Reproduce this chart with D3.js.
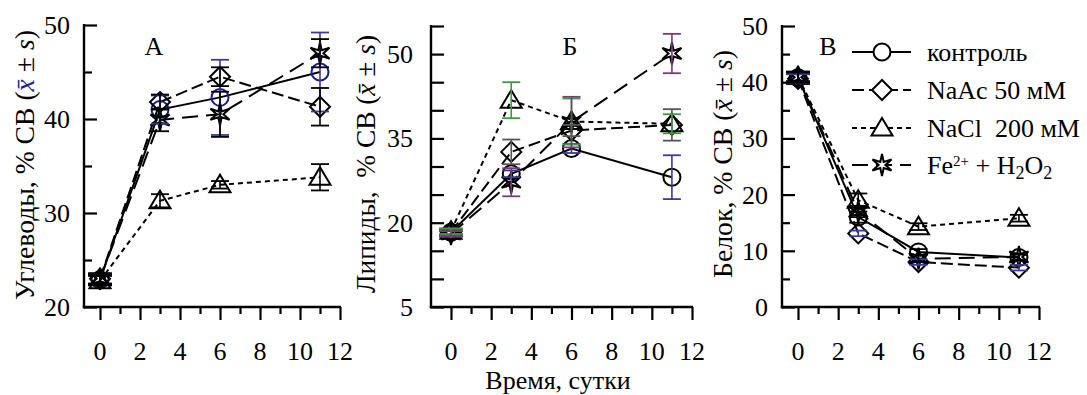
<!DOCTYPE html>
<html><head><meta charset="utf-8">
<script src="https://cdn.jsdelivr.net/npm/d3@7"></script>
<style>body{margin:0;background:#fff}svg{display:block}</style>
</head><body><svg id="c" width="1087" height="395" font-family="'Liberation Serif', 'Times New Roman', serif"></svg>
<script>
const days = [0, 3, 6, 11];
const seriesNames = ["контроль", "NaAc 50 мМ", "NaCl  200 мМ", "Fe"];
const xTicks = [0, 2, 4, 6, 8, 10, 12];

// Panel A – carbohydrates
const carbValues = [
  [22.9, 41.0, 42.3, 45.0],
  [23.0, 41.8, 44.5, 41.3],
  [22.8, 31.3, 33.0, 33.8],
  [23.0, 39.9, 40.5, 47.0]
];
const carbSd = [
  [0.5, 1.5, 4.0, 4.2],
  [0.5, 0.8, 1.0, 2.0],
  [0.5, 0.7, 0.4, 1.4],
  [0.6, 1.2, 2.4, 1.5]
];
const carbTicks = [20, 30, 40, 50];

// Panel B – lipids
const lipidValues = [
  [18.3, 28.7, 33.2, 28.1],
  [18.3, 32.6, 36.4, 37.4],
  [18.5, 41.8, 38.0, 37.6],
  [18.0, 27.2, 37.9, 50.1]
];
const lipidSd = [
  [0.5, 0.6, 0.8, 3.9],
  [0.5, 2.2, 1.0, 2.8],
  [0.5, 3.2, 4.1, 1.7],
  [0.5, 2.5, 4.5, 3.5]
];
const lipidTicks = [5, 20, 35, 50];

// Panel C – protein
const proteinValues = [
  [40.8, 16.0, 9.8, 8.8],
  [40.6, 13.1, 8.0, 7.0],
  [41.0, 19.0, 14.3, 15.8],
  [40.9, 17.0, 8.6, 8.9]
];
const proteinSd = [
  [0.8, 1.0, 0.5, 0.5],
  [0.8, 0.5, 0.5, 0.5],
  [0.8, 1.2, 0.6, 0.6],
  [1.0, 1.0, 0.6, 0.6]
];
const proteinTicks = [0, 10, 20, 30, 40, 50];

const svg = d3.select("#c");
const BLUE = "#3a3a9c", NAVY = "#1c1c8c", GREEN = "#3c9a3c", PURPLE = "#7a3a7a", GRAY = "#555";
const dashes = [null, "12,5", "5,4", "16,8"];
const shapes = ["circle", "diamond", "triangle", "star"];

function fitText(sel, target) {
  const fs = +sel.attr("font-size");
  const w = sel.node().getComputedTextLength();
  if (w > 0) sel.attr("font-size", (fs * target / w).toFixed(2));
}
function starPath(R, r, n) {
  const pts = [];
  for (let i = 0; i < 2 * n; i++) {
    const a = -Math.PI / 2 + i * Math.PI / n;
    const rr = i % 2 === 0 ? R : r;
    pts.push([rr * Math.cos(a), rr * Math.sin(a)]);
  }
  return "M" + pts.map(p => p[0].toFixed(2) + "," + p[1].toFixed(2)).join("L") + "Z";
}
function markerPath(shape) {
  if (shape === "circle") return "M8.5,0A8.5,8.5 0 1,1 -8.5,0A8.5,8.5 0 1,1 8.5,0Z";
  if (shape === "diamond") return "M0,-10L10,0L0,10L-10,0Z";
  if (shape === "triangle") return "M0,-10L10.5,7.5L-10.5,7.5Z";
  return starPath(11, 3.4, 6);
}

function panel(cfg) {
  const x = d3.scaleLinear().domain([0, 12]).range([cfg.x0, cfg.x1]);
  const y = d3.scaleLinear().domain(cfg.domain).range([cfg.yb, cfg.yt]);
  const g = svg.append("g");
  const yAxis = d3.axisRight(y).tickValues(d3.range(cfg.domain[0], cfg.domain[1] + 0.1, cfg.minor))
    .tickFormat("").tickSizeOuter(0).tickSize(13);
  const ya = g.append("g").attr("transform", `translate(${cfg.ax},0)`).call(yAxis);
  ya.select(".domain").remove();
  ya.selectAll(".tick line").attr("stroke-width", 2.2)
    .attr("x2", d => (cfg.labels.includes(d) || cfg.allMajor) ? 13 : 8);
  g.append("line").attr("x1", cfg.ax).attr("x2", cfg.ax).attr("y1", cfg.yt - 1).attr("y2", cfg.yb + 1.2)
    .attr("stroke", "#000").attr("stroke-width", 2.4);
  cfg.labels.forEach(v => {
    g.append("text").attr("x", cfg.ax - cfg.lgap).attr("y", y(v) + 9).attr("text-anchor", "end")
      .attr("font-size", 26).text(v);
  });
  const xAxis = d3.axisBottom(x).tickValues(d3.range(0, 13, 1)).tickFormat("").tickSizeOuter(0).tickSize(13);
  const xa = g.append("g").attr("transform", `translate(0,${cfg.yb})`).call(xAxis);
  xa.select(".domain").remove();
  xa.selectAll(".tick line").attr("stroke-width", 2.2).attr("y2", d => d % 2 === 0 ? 13 : 7);
  g.append("line").attr("x1", cfg.ax - 1.2).attr("x2", x(12) + 1).attr("y1", cfg.yb).attr("y2", cfg.yb)
    .attr("stroke", "#000").attr("stroke-width", 2.4);
  xTicks.forEach(v => {
    g.append("text").attr("x", x(v)).attr("y", 360).attr("text-anchor", "middle")
      .attr("font-size", 26).text(v);
  });
  const t = g.append("text").attr("transform", `translate(${cfg.tx},${cfg.ty}) rotate(-90)`)
    .attr("text-anchor", "middle").attr("font-size", 25).attr("xml:space", "preserve").style("white-space", "pre");
  t.append("tspan").text(cfg.title + " (");
  t.append("tspan").attr("font-style", "italic").attr("fill", cfg.xbarColor).text("x\u0304");
  t.append("tspan").text(" \u00b1 ");
  t.append("tspan").attr("font-style", "italic").text("s");
  t.append("tspan").text(")");
  fitText(t, cfg.tlen);
  g.append("text").attr("x", cfg.lx).attr("y", 55).attr("text-anchor", "middle").attr("font-size", 26).text(cfg.letter);

  const line = d3.line().x((d, i) => x(days[i])).y(d => y(d));
  cfg.values.forEach((vals, s) => {
    g.append("path").attr("d", line(vals)).attr("fill", "none").attr("stroke", "#000")
      .attr("stroke-width", 2).attr("stroke-dasharray", dashes[s]);
  });
  cfg.values.forEach((vals, s) => {
    vals.forEach((v, i) => {
      g.append("path").attr("d", markerPath(shapes[s])).attr("transform", `translate(${x(days[i])},${y(v)})`)
        .attr("fill", "none").attr("stroke", cfg.markerColors[s]).attr("stroke-width", 2);
    });
  });
  cfg.values.forEach((vals, s) => {
    vals.forEach((v, i) => {
      const sd = cfg.sd[s][i];
      const cx = x(days[i]);
      const col = cfg.errColors[s];
      const hw = i === 0 ? 12 : 9;
      g.append("line").attr("x1", cx).attr("x2", cx).attr("y1", y(v - sd)).attr("y2", y(v + sd))
        .attr("stroke", col).attr("stroke-width", 1.6);
      [v - sd, v + sd].forEach(e => {
        g.append("line").attr("x1", cx - hw).attr("x2", cx + hw).attr("y1", y(e)).attr("y2", y(e))
          .attr("stroke", col).attr("stroke-width", 1.8);
      });
    });
  });
}

panel({ x0: 100, x1: 340, ax: 84, yt: 25, yb: 307, domain: [20, 50], minor: 5, labels: carbTicks, lgap: 14,
  values: carbValues, sd: carbSd, title: "Углеводы, % СВ", tx: 34, ty: 165, tlen: 270, xbarColor: NAVY,
  letter: "А", lx: 154, markerColors: [NAVY, "#000", "#000", "#000"], errColors: [BLUE, "#000", "#000", "#000"] });
panel({ x0: 451, x1: 692, ax: 431, yt: 26, yb: 307, domain: [5, 55], minor: 5, labels: lipidTicks, allMajor: true, lgap: 18,
  values: lipidValues, sd: lipidSd, title: "Липиды,  % СВ", tx: 375, ty: 164, tlen: 258, xbarColor: "#000",
  letter: "Б", lx: 570, markerColors: ["#000", "#000", "#000", "#000"], errColors: [BLUE, GRAY, GREEN, PURPLE] });
panel({ x0: 798, x1: 1039, ax: 782, yt: 26, yb: 307, domain: [0, 50], minor: 5, labels: proteinTicks, lgap: 14,
  values: proteinValues, sd: proteinSd, title: "Белок, % СВ", tx: 732, ty: 164, tlen: 228, xbarColor: "#000",
  letter: "В", lx: 828, markerColors: ["#000", "#000", "#000", "#000"], errColors: ["#000", BLUE, "#000", "#000"] });

const legY = [52, 90, 128, 165];
const lg = svg.append("g");
seriesNames.forEach((n, s) => {
  lg.append("line").attr("x1", 852).attr("x2", 911).attr("y1", legY[s]).attr("y2", legY[s])
    .attr("stroke", "#000").attr("stroke-width", 2).attr("stroke-dasharray", dashes[s]);
  lg.append("path").attr("d", markerPath(shapes[s])).attr("transform", `translate(882,${legY[s]})`)
    .attr("fill", "#fff").attr("stroke", "#000").attr("stroke-width", 2);
  const t = lg.append("text").attr("x", 927).attr("y", legY[s] + 9).attr("font-size", 26)
    .attr("xml:space", "preserve").style("white-space", "pre");
  if (s < 3) t.text(n);
  else {
    t.append("tspan").text("Fe");
    t.append("tspan").attr("font-size", 15).attr("dy", -8).text("2+");
    t.append("tspan").attr("dy", 8).text(" + H");
    t.append("tspan").attr("font-size", 18).attr("dy", 5).text("2");
    t.append("tspan").attr("dy", -5).text("O");
    t.append("tspan").attr("font-size", 18).attr("dy", 5).text("2");
  }
});
svg.append("text").attr("x", 558).attr("y", 389).attr("text-anchor", "middle").attr("font-size", 26).text("Время, сутки");
</script></body></html>
